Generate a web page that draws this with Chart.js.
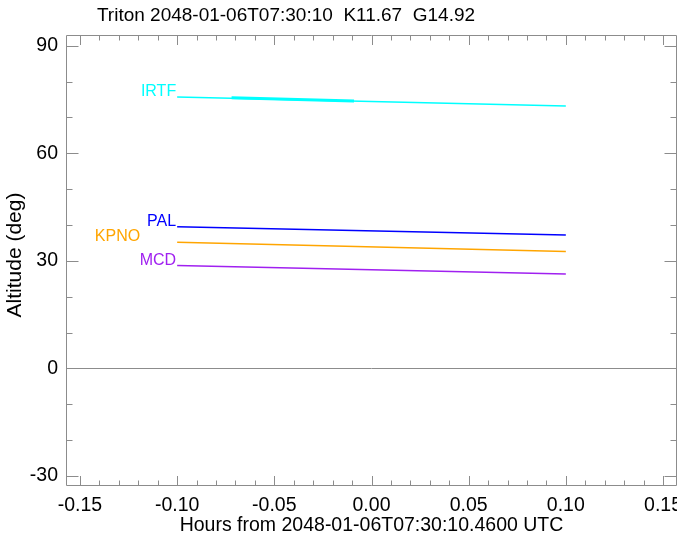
<!DOCTYPE html>
<html><head><meta charset="utf-8">
<script src="https://cdn.jsdelivr.net/npm/chart.js@4/dist/chart.umd.min.js"></script>
<style>html,body{margin:0;padding:0;background:#fff}</style>
</head><body>
<canvas id="c" width="677" height="540"></canvas>
<script>
const titleText = 'Triton 2048-01-06T07:30:10  K11.67  G14.92';
const xTitle = 'Hours from 2048-01-06T07:30:10.4600 UTC';
const yTitle = 'Altitude (deg)';
const stations = ['IRTF', 'PAL', 'KPNO', 'MCD'];
const stationColors = ['#00ffff', '#0000ff', '#ffa500', '#a020f0'];
const hours = [-0.1, 0.1];
const irtfAlt = [75.7, 73.2];
const palAlt = [39.5, 37.2];
const kpnoAlt = [35.2, 32.6];
const mcdAlt = [28.7, 26.3];
const irtfWindowHours = [-0.072, -0.009];
const irtfWindowAlt = [75.5, 74.6];
const xTickValues = [-0.15, -0.10, -0.05, 0.00, 0.05, 0.10, 0.15];
const xTickLabels = ['-0.15', '-0.10', '-0.05', '0.00', '0.05', '0.10', '0.15'];
const yTickValues = [-30, 0, 30, 60, 90];

const seriesAlt = [irtfAlt, palAlt, kpnoAlt, mcdAlt];
const FONT = '"Liberation Sans", Arial, Helvetica, sans-serif';

const datasets = stations.map((s, i) => ({
  label: s,
  data: hours.map((h, k) => ({x: h, y: seriesAlt[i][k]})),
  borderColor: stationColors[i],
  backgroundColor: stationColors[i],
  borderWidth: 1.5,
  pointRadius: 0,
  showLine: true,
  fill: false
}));
datasets.push({
  label: 'IRTF window',
  data: irtfWindowHours.map((h, k) => ({x: h, y: irtfWindowAlt[k]})),
  borderColor: stationColors[0],
  borderWidth: 3,
  pointRadius: 0,
  showLine: true,
  fill: false
});

const framePlugin = {
  id: 'frame',
  beforeDatasetsDraw(chart) {
    const {ctx, scales: {x, y}} = chart;
    ctx.save();
    ctx.strokeStyle = '#8c8c8c';
    ctx.lineWidth = 1;
    const L = Math.round(x.left) + 0.5, R = Math.round(x.right) - 0.5;
    const T = Math.round(y.top) + 0.5, B = Math.round(y.bottom) - 0.5;
    ctx.beginPath();
    ctx.rect(L, T, R - L, B - T);
    const y0 = Math.round(y.getPixelForValue(0)) + 0.5;
    ctx.moveTo(L, y0); ctx.lineTo(R, y0);
    for (let i = -15; i <= 15; i++) {
      const px = Math.round(x.getPixelForValue(i / 100)) + 0.5;
      const len = (i % 5 === 0) ? 9.5 : 5;
      ctx.moveTo(px, B); ctx.lineTo(px, B - len);
      ctx.moveTo(px, T); ctx.lineTo(px, T + len);
    }
    for (let v = -30; v <= 90; v += 10) {
      const py = Math.round(y.getPixelForValue(v)) + 0.5;
      const len = (v % 30 === 0) ? 12 : 6;
      ctx.moveTo(L, py); ctx.lineTo(L + len, py);
      ctx.moveTo(R, py); ctx.lineTo(R - len, py);
    }
    ctx.stroke();
    ctx.restore();
  },
  afterDatasetsDraw(chart) {
    const {ctx, scales: {x, y}} = chart;
    ctx.save();
    ctx.font = '16px ' + FONT;
    ctx.textAlign = 'right';
    ctx.textBaseline = 'alphabetic';
    stations.forEach((s, i) => {
      const shift = (s === 'KPNO') ? 36 : 0;
      const px = x.getPixelForValue(hours[0]) - 1 - shift;
      const py = y.getPixelForValue(seriesAlt[i][0]) - 1;
      ctx.fillStyle = stationColors[i];
      ctx.fillText(s, px, py);
    });
    ctx.restore();
  },
  afterDraw(chart) {
    const {ctx, scales: {x, y}} = chart;
    ctx.save();
    ctx.fillStyle = '#000';
    ctx.textAlign = 'center';
    ctx.textBaseline = 'alphabetic';
    ctx.font = '19.5px ' + FONT;
    xTickValues.forEach((v, i) => {
      ctx.fillText(xTickLabels[i], x.getPixelForValue(v), y.bottom + 25);
    });
    ctx.font = '19px ' + FONT;
    ctx.fillText(titleText, 286, 21);
    ctx.font = '21px ' + FONT;
    ctx.translate(21, 255);
    ctx.rotate(-Math.PI / 2);
    ctx.fillText(yTitle, 0, 0);
    ctx.restore();
  }
};

new Chart(document.getElementById('c'), {
  type: 'scatter',
  data: {datasets},
  options: {
    responsive: false,
    devicePixelRatio: 1,
    animation: false,
    layout: {padding: {top: 35, right: 0, left: 0, bottom: 0}},
    plugins: {legend: {display: false}, title: {display: false}, tooltip: {enabled: false}},
    scales: {
      x: {
        type: 'linear', min: -0.1572, max: 0.1572,
        afterBuildTicks: s => { s.ticks = xTickValues.map(v => ({value: v})); },
        afterFit: s => { s.height = 54; s.paddingLeft = 0; s.paddingRight = 0; },
        grid: {display: false}, border: {display: false},
        ticks: {display: false},
        title: {display: true, text: xTitle, color: '#000', font: {size: 19.5, family: FONT}, padding: {top: 0, bottom: 3}}
      },
      y: {
        type: 'linear', min: -32.8, max: 93.0,
        afterBuildTicks: s => { s.ticks = yTickValues.map(v => ({value: v})); },
        afterFit: s => { s.width = 66; s.paddingTop = 0; s.paddingBottom = 0; },
        grid: {display: false}, border: {display: false},
        ticks: {font: {size: 19.5, family: FONT}, color: '#000', padding: 0, callback: v => String(v)},
        title: {display: false}
      }
    }
  },
  plugins: [framePlugin]
});
</script>
</body></html>
